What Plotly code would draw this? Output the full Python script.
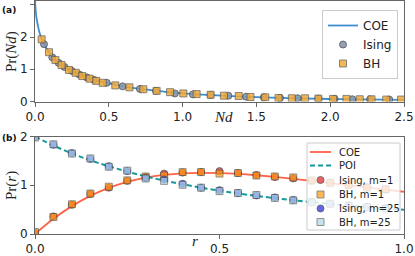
import plotly.graph_objects as go

# ---------------- Panel (a) data ----------------
coe_a_x = [0.0, 0.005, 0.01, 0.02, 0.03, 0.045, 0.06, 0.08, 0.1, 0.125, 0.15, 0.2, 0.25, 0.3, 0.35,
           0.4, 0.5, 0.6, 0.7, 0.8, 0.9, 1.0, 1.2, 1.4, 1.6, 1.8, 2.0, 2.2, 2.5]
coe_a_y = [3.2, 2.8, 2.6, 2.35, 2.15, 1.95, 1.8, 1.63, 1.5, 1.36, 1.25, 1.08, 0.95, 0.84, 0.75,
           0.67, 0.56, 0.47, 0.40, 0.345, 0.295, 0.255, 0.195, 0.15, 0.12, 0.095, 0.078, 0.065, 0.05]

ising_a_x = [0.061, 0.117, 0.16, 0.2, 0.25, 0.30, 0.35, 0.40, 0.486, 0.594, 0.711, 0.82, 0.948,
             1.07, 1.19, 1.31, 1.43, 1.55, 1.66, 1.78, 1.92, 2.03, 2.15, 2.27, 2.40]
ising_a_y = [1.78, 1.37, 1.20, 1.07, 0.95, 0.84, 0.75, 0.67, 0.58, 0.47, 0.39, 0.33, 0.25,
             0.22, 0.20, 0.18, 0.15, 0.13, 0.11, 0.10, 0.09, 0.08, 0.07, 0.065, 0.06]

bh_a_x = [0.045, 0.095, 0.138, 0.18, 0.23, 0.276, 0.32, 0.37, 0.415, 0.459, 0.544, 0.64, 0.734,
          0.824, 0.915, 1.005, 1.095, 1.19, 1.28, 1.38, 1.46, 1.56, 1.65, 1.74, 1.83, 1.92, 2.02,
          2.11, 2.20, 2.28, 2.38, 2.48]
bh_a_y = [1.93, 1.53, 1.29, 1.13, 0.98, 0.89, 0.79, 0.71, 0.64, 0.58, 0.50, 0.44, 0.38,
          0.33, 0.29, 0.25, 0.23, 0.21, 0.18, 0.17, 0.14, 0.13, 0.11, 0.10, 0.10, 0.09, 0.08,
          0.08, 0.07, 0.07, 0.06, 0.06]

# ---------------- Panel (b) data ----------------
r_curve = [0.0, 0.05, 0.1, 0.15, 0.2, 0.25, 0.3, 0.35, 0.4, 0.45, 0.5, 0.55, 0.6, 0.65, 0.7,
           0.75, 0.8, 0.85, 0.9, 0.95, 1.0]
coe_b = [0.0, 0.312, 0.572, 0.782, 0.946, 1.069, 1.156, 1.212, 1.244, 1.255, 1.250, 1.232,
         1.205, 1.171, 1.132, 1.089, 1.045, 1.000, 0.955, 0.910, 0.866]
poi_b = [2.0, 1.814, 1.653, 1.512, 1.389, 1.280, 1.183, 1.097, 1.020, 0.951, 0.889, 0.833,
         0.781, 0.735, 0.692, 0.653, 0.617, 0.584, 0.554, 0.526, 0.5]

r_pts = [0.0, 0.05, 0.1, 0.15, 0.2, 0.25, 0.3, 0.35, 0.4, 0.45, 0.5, 0.55, 0.6, 0.65, 0.7,
         0.75, 0.8, 0.85, 0.9, 0.95]
ising_m1 = [0.02, 0.36, 0.60, 0.82, 0.95, 1.09, 1.17, 1.24, 1.26, 1.27, 1.29, 1.25, 1.21, 1.17,
            1.14, 1.09, 1.05, 1.00, 0.96, 0.91]
bh_m1 = [0.04, 0.35, 0.61, 0.83, 0.97, 1.10, 1.18, 1.20, 1.27, 1.27, 1.24, 1.25, 1.20, 1.18,
         1.16, 1.10, 1.05, 1.01, 0.95, 0.92]
ising_m25 = [1.99, 1.83, 1.66, 1.54, 1.39, 1.29, 1.15, 1.12, 1.03, 0.95, 0.90, 0.84, 0.79, 0.75,
             0.70, 0.66, 0.62, 0.59, 0.56, 0.53]
bh_m25 = [1.98, 1.84, 1.65, 1.55, 1.38, 1.30, 1.14, 1.09, 1.01, 0.95, 0.88, 0.84, 0.80, 0.74,
          0.69, 0.65, 0.62, 0.58, 0.55, 0.52]

legend_b_labels = ["COE", "POI", "Ising, m=1", "BH, m=1", "Ising, m=25", "BH, m=25"]

W, H = 415, 256
COE_B = "#ff6347"
POI_B = "#16999a"
styles_b = [
    dict(symbol="circle", color="#e8474a", opacity=0.85),
    dict(symbol="square", color="#ff9a10", opacity=0.7),
    dict(symbol="circle", color="#4a4ae6", opacity=0.85),
    dict(symbol="square", color="#add8e6", opacity=0.7),
]

fig = go.Figure()

# Panel (a)
fig.add_trace(go.Scatter(x=coe_a_x, y=coe_a_y, mode="lines", name="COE",
                         line=dict(color="#3d8fd1", width=1.8, shape="spline"),
                         xaxis="x", yaxis="y"))
fig.add_trace(go.Scatter(x=ising_a_x, y=ising_a_y, mode="markers", name="Ising",
                         marker=dict(symbol="circle", size=7, color="#8797ab", opacity=0.9,
                                     line=dict(color="#444", width=0.8)),
                         xaxis="x", yaxis="y"))
fig.add_trace(go.Scatter(x=bh_a_x, y=bh_a_y, mode="markers", name="BH",
                         marker=dict(symbol="square", size=7, color="#f0aa38", opacity=0.85,
                                     line=dict(color="#555", width=0.8)),
                         xaxis="x", yaxis="y"))

# Panel (b)
fig.add_trace(go.Scatter(x=r_curve, y=coe_b, mode="lines", name=legend_b_labels[0],
                         line=dict(color=COE_B, width=1.8, shape="spline"),
                         xaxis="x2", yaxis="y2", showlegend=False))
fig.add_trace(go.Scatter(x=r_curve, y=poi_b, mode="lines", name=legend_b_labels[1],
                         line=dict(color=POI_B, width=2, dash="5px,3px", shape="spline"),
                         xaxis="x2", yaxis="y2", showlegend=False))
for vals, st, nm in zip([ising_m1, bh_m1, ising_m25, bh_m25], styles_b, legend_b_labels[2:]):
    fig.add_trace(go.Scatter(x=r_pts, y=vals, mode="markers", name=nm,
                             marker=dict(symbol=st["symbol"], size=7, color=st["color"],
                                         opacity=st["opacity"],
                                         line=dict(color="#444", width=0.8)),
                             xaxis="x2", yaxis="y2", showlegend=False))

tickfont = dict(family="DejaVu Sans", size=12, color="#222")
axis_common = dict(showline=True, linecolor="#666", linewidth=1, mirror=True,
                   ticks="outside", ticklen=4, tickcolor="#666", tickwidth=1,
                   showgrid=False, zeroline=False, tickfont=tickfont, automargin=False)

xdom = [35 / W, 404 / W]
fig.update_layout(
    width=W, height=H,
    margin=dict(l=0, r=0, t=0, b=0, autoexpand=False),
    paper_bgcolor="white", plot_bgcolor="white",
    xaxis=dict(domain=xdom, range=[0, 2.5], tickvals=[0, 0.5, 1.0, 1.5, 2.0, 2.5],
               ticktext=["0.0", "0.5", "1.0", "1.5", "2.0", "2.5"], anchor="y", **axis_common),
    yaxis=dict(domain=[1 - 101.5 / H, 1 - 1 / H], range=[0, 3.12], tickvals=[0, 1, 2, 3],
               anchor="x", **axis_common),
    xaxis2=dict(domain=xdom, range=[0, 1], tickvals=[0, 0.5, 1.0],
                ticktext=["0.0", "0.5", "1.0"], anchor="y2", **axis_common),
    yaxis2=dict(domain=[1 - 234 / H, 1 - 136.5 / H], range=[0, 2], tickvals=[0, 1, 2],
                anchor="x2", **axis_common),
    legend=dict(x=398 / W, y=1 - 10 / H, xanchor="right", yanchor="top",
                bgcolor="rgba(255,255,255,0.8)", bordercolor="#ccc", borderwidth=1,
                font=dict(family="DejaVu Sans", size=12, color="#222"),
                itemwidth=30, tracegroupgap=0),
    showlegend=True,
)


def px(xp):
    return xp / W


def py(yp):
    return 1 - yp / H


# Custom compact legend for panel (b)
shapes = [dict(type="rect", xref="paper", yref="paper", x0=px(307), x1=px(400),
               y0=py(230), y1=py(143), fillcolor="rgba(255,255,255,0.8)",
               line=dict(color="#ccc", width=1), layer="above")]
row_y = [152, 165.5, 180, 194.5, 208.5, 222]
shapes.append(dict(type="line", xref="paper", yref="paper", x0=px(310), x1=px(331),
                   y0=py(row_y[0]), y1=py(row_y[0]), line=dict(color=COE_B, width=1.8),
                   layer="above"))
shapes.append(dict(type="line", xref="paper", yref="paper", x0=px(310), x1=px(331),
                   y0=py(row_y[1]), y1=py(row_y[1]),
                   line=dict(color=POI_B, width=2, dash="5px,3px"), layer="above"))
for st, yy in zip(styles_b, row_y[2:]):
    shapes.append(dict(type="circle" if st["symbol"] == "circle" else "rect",
                       xref="paper", yref="paper", x0=px(317), x1=px(324),
                       y0=py(yy + 3.5), y1=py(yy - 3.5), fillcolor=st["color"],
                       opacity=st["opacity"], line=dict(color="#444", width=0.8),
                       layer="above"))

serif = "Liberation Serif"
ann = [
    dict(text="<b>(a)</b>", x=0, y=py(10), xanchor="left", yanchor="middle",
         font=dict(family="DejaVu Sans", size=9, color="#111")),
    dict(text="<b>(b)</b>", x=0, y=py(138), xanchor="left", yanchor="middle",
         font=dict(family="DejaVu Sans", size=9, color="#111")),
    dict(text="Pr(<i>Nd</i>)", x=px(11), y=py(52), textangle=-90,
         xanchor="center", yanchor="middle", font=dict(family=serif, size=15, color="#222")),
    dict(text="Pr(<i>r</i>)", x=px(11), y=py(186), textangle=-90,
         xanchor="center", yanchor="middle", font=dict(family=serif, size=15, color="#222")),
    dict(text="<i>Nd</i>", x=px(223), y=py(117), xanchor="center", yanchor="middle",
         font=dict(family=serif, size=15, color="#222")),
    dict(text="<i>r</i>", x=px(195), y=py(241), xanchor="center", yanchor="middle",
         font=dict(family=serif, size=15, color="#222")),
]
for lab, yy in zip(legend_b_labels, row_y):
    ann.append(dict(text=lab, x=px(337), y=py(yy), xanchor="left", yanchor="middle",
                    font=dict(family="DejaVu Sans", size=10, color="#222")))
for a in ann:
    a.update(xref="paper", yref="paper", showarrow=False)
fig.update_layout(annotations=ann, shapes=shapes)

fig.write_html(
    "out.html",
    config={"displayModeBar": False},
    post_script="document.body.style.margin='0';document.body.style.padding='0';"
                "document.documentElement.style.overflow='hidden';",
)
